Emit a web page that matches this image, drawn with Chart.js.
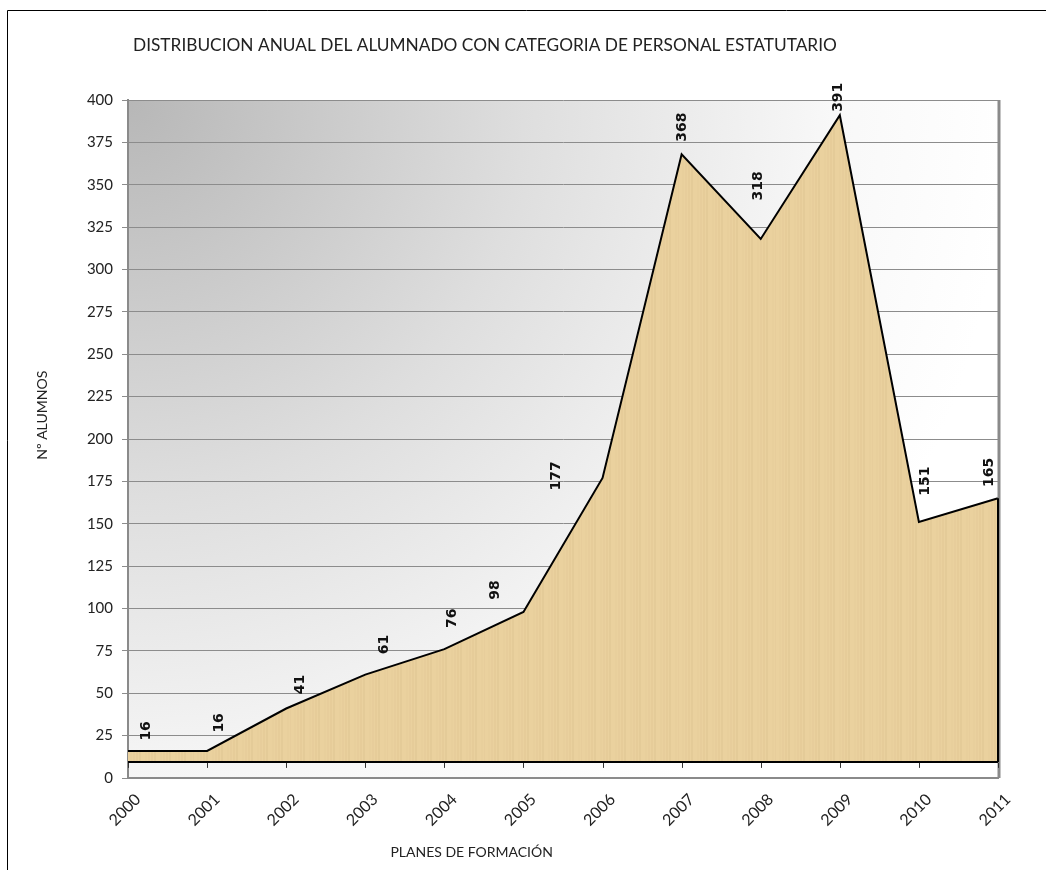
<!DOCTYPE html>
<html>
<head>
<meta charset="utf-8">
<title>Distribucion anual del alumnado</title>
<script src="https://cdn.jsdelivr.net/npm/chart.js@4.4.1/dist/chart.umd.min.js"></script>
<style>
  html, body { margin: 0; padding: 0; background: #fff; }
  #wrap { width: 1046px; height: 870px; }
</style>
</head>
<body>
<div id="wrap"><canvas id="chart" width="1046" height="870"></canvas></div>
<script>
// Chart data
const years = ['2000', '2001', '2002', '2003', '2004', '2005', '2006', '2007', '2008', '2009', '2010', '2011'];
const alumnos = [16, 16, 41, 61, 76, 98, 177, 368, 318, 391, 151, 165];
const yMin = 0;
const yMax = 400;
const yStep = 25;

// Texts
const chartTitle = 'DISTRIBUCION ANUAL DEL ALUMNADO CON CATEGORIA DE PERSONAL ESTATUTARIO';
const yTitle = 'Nº ALUMNOS';
const xTitle = 'PLANES DE FORMACIÓN';

// Floor of the filled area (the black base line sits a little above zero)
const areaBase = 9.5;

// Nudges for the rotated value labels, in pixels from their point [dx, dy]
const labelNudge = [
  [18, -20], [12, -28], [14, -24], [19, -30], [8, -31], [-28, -22],
  [-46, -2], [1, -27], [-2, -53], [-1, -18], [6, -41], [-9, -26],
];

const uiFont = 'Lato, "Open Sans", sans-serif';

/**
 * Builds a papyrus-like fill pattern for the area
 * @param {CanvasRenderingContext2D} ctx
 * @returns {CanvasPattern}
 */
function makePapyrus(ctx) {
  const tile = document.createElement('canvas');
  tile.width = 97;
  tile.height = 89;
  const t = tile.getContext('2d');
  t.fillStyle = '#ead19e';
  t.fillRect(0, 0, tile.width, tile.height);
  // vertical fibres
  for (let x = 0; x < tile.width; x += 3) {
    const a = ((x * 7) % 5) * 0.02;
    t.fillStyle = `rgba(170, 140, 90, ${a})`;
    t.fillRect(x, 0, 2, tile.height);
  }
  // horizontal fibres
  for (let y = 0; y < tile.height; y += 4) {
    const a = ((y * 3) % 4) * 0.03;
    t.fillStyle = `rgba(255, 240, 215, ${a})`;
    t.fillRect(0, y, tile.width, 1);
  }
  return ctx.createPattern(tile, 'repeat');
}

// Background, frame, base line, labels and titles
const decorPlugin = {
  id: 'decor',
  beforeDraw(chart) {
    const { ctx, chartArea: a, width, height } = chart;
    ctx.save();
    ctx.fillStyle = '#fff';
    ctx.fillRect(0, 0, width, height);

    // outer frame (top and left edges only are visible)
    ctx.strokeStyle = '#000';
    ctx.lineWidth = 1;
    ctx.beginPath();
    ctx.moveTo(7.5, height);
    ctx.lineTo(7.5, 10.5);
    ctx.lineTo(width, 10.5);
    ctx.stroke();

    // plot background: grey in the top left fading to white
    const g = ctx.createRadialGradient(a.left, a.top, 0, a.left, a.top, 880);
    g.addColorStop(0, '#b7b7b7');
    g.addColorStop(0.45, '#dedede');
    g.addColorStop(0.8, '#f8f8f8');
    g.addColorStop(1, '#ffffff');
    ctx.fillStyle = g;
    ctx.fillRect(a.left, a.top, a.right - a.left, a.bottom - a.top);
    ctx.restore();
  },
  afterDatasetsDraw(chart) {
    const { ctx, chartArea: a } = chart;
    const xs = chart.scales.x;
    const ys = chart.scales.y;
    const baseY = ys.getPixelForValue(areaBase);
    ctx.save();

    // right plot border
    ctx.strokeStyle = '#8a8a8a';
    ctx.lineWidth = 3;
    ctx.beginPath();
    ctx.moveTo(a.right + 1, a.top);
    ctx.lineTo(a.right + 1, a.bottom);
    ctx.stroke();

    // right edge of the area
    ctx.strokeStyle = '#000';
    ctx.lineWidth = 2;
    ctx.beginPath();
    ctx.moveTo(a.right, ys.getPixelForValue(alumnos[alumnos.length - 1]));
    ctx.lineTo(a.right, baseY);
    ctx.stroke();

    // base line with small tick marks
    ctx.beginPath();
    ctx.moveTo(a.left, baseY);
    ctx.lineTo(a.right, baseY);
    ctx.stroke();
    ctx.lineWidth = 1;
    ctx.strokeStyle = '#333';
    years.forEach((year, i) => {
      const x = Math.round(xs.getPixelForValue(i)) + 0.5;
      ctx.beginPath();
      ctx.moveTo(x, baseY + 1);
      ctx.lineTo(x, baseY + 6);
      ctx.stroke();
    });

    // value labels, rotated
    ctx.fillStyle = '#111';
    ctx.font = 'bold 14px "DejaVu Sans", Verdana, sans-serif';
    ctx.textAlign = 'center';
    ctx.textBaseline = 'middle';
    alumnos.forEach((value, i) => {
      const [dx, dy] = labelNudge[i];
      ctx.save();
      ctx.translate(xs.getPixelForValue(i) + dx, ys.getPixelForValue(value) + dy);
      ctx.rotate(-Math.PI / 2);
      ctx.fillText(String(value), 0, 0);
      ctx.restore();
    });
    ctx.restore();
  },
  afterDraw(chart) {
    const { ctx, chartArea: a } = chart;
    ctx.save();
    ctx.fillStyle = '#222';
    ctx.textBaseline = 'middle';

    // chart title
    ctx.font = `17.3px ${uiFont}`;
    ctx.textAlign = 'left';
    ctx.fillText(chartTitle, a.left + 5, 45);

    // x axis title
    ctx.font = `14px ${uiFont}`;
    ctx.textAlign = 'center';
    ctx.fillText(xTitle, a.left + (a.right - a.left) * 0.395, 852);

    // y axis title
    ctx.font = `14px ${uiFont}`;
    ctx.translate(42, a.top + (a.bottom - a.top) * 0.465);
    ctx.rotate(-Math.PI / 2);
    ctx.fillText(yTitle, 0, 0);
    ctx.restore();
  },
};

const canvas = document.getElementById('chart');
const context = canvas.getContext('2d');

const chart = new Chart(context, {
  type: 'line',
  data: {
    labels: years,
    datasets: [{
      data: alumnos,
      borderColor: '#000',
      borderWidth: 2,
      backgroundColor: makePapyrus(context),
      fill: { value: areaBase },
      pointRadius: 0,
      tension: 0,
    }],
  },
  options: {
    responsive: false,
    animation: false,
    devicePixelRatio: 1,
    layout: { padding: { top: 100, right: 48, left: 0, bottom: 0 } },
    plugins: {
      legend: { display: false },
      tooltip: { enabled: false },
      title: { display: false },
    },
    scales: {
      x: {
        offset: false,
        afterFit: (scale) => { scale.height = 92; },
        grid: { display: false, drawTicks: false },
        border: { display: true, color: '#8a8a8a', width: 2 },
        ticks: {
          color: '#222',
          font: { family: uiFont, size: 16 },
          minRotation: 45,
          maxRotation: 45,
          padding: 12,
          labelOffset: 10,
          autoSkip: false,
        },
      },
      y: {
        min: yMin,
        max: yMax,
        afterFit: (scale) => { scale.width = 128; },
        grid: { color: '#8c8c8c', lineWidth: 1, tickLength: 6 },
        border: { display: true, color: '#8a8a8a', width: 2 },
        ticks: {
          stepSize: yStep,
          color: '#222',
          font: { family: uiFont, size: 15 },
          padding: 9,
        },
      },
    },
  },
  plugins: [decorPlugin],
});
</script>
</body>
</html>
